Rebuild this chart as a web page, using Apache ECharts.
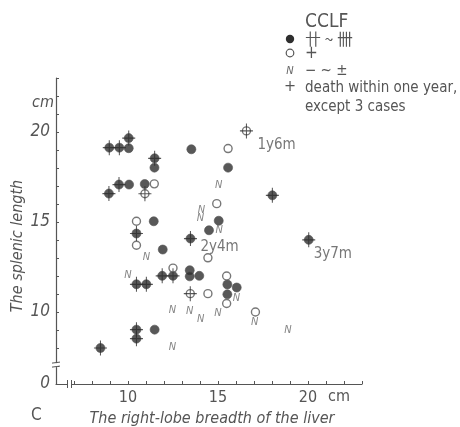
<!DOCTYPE html>
<html>
<head>
<meta charset="utf-8">
<script src="https://cdn.jsdelivr.net/npm/echarts@6/dist/echarts.min.js"></script>
<style>
  html, body { margin: 0; padding: 0; background: #fff; }
  #chart { width: 460px; height: 427px; }
</style>
</head>
<body>
<div id="chart"></div>
<script>
// x: right-lobe breadth of the liver (cm), y: splenic length (cm)
// CCLF ++ ~ +++  (filled circle), died within one year (cross)
const filledDeath = [
  [8.47, 8.0], [8.96, 19.13], [9.52, 19.13], [10.04, 19.66], [11.48, 18.54],
  [9.5, 17.08], [8.94, 16.58], [10.47, 14.36], [10.47, 11.54], [11.02, 11.54],
  [11.9, 12.01], [12.5, 12.01], [13.47, 14.08], [10.47, 9.02], [10.47, 8.52],
  [18.02, 16.48], [20.04, 14.01]
];
// CCLF ++ ~ +++  (filled circle), alive
const filledAlive = [
  [10.04, 19.1], [13.52, 19.04], [11.47, 18.02], [10.06, 17.08], [10.93, 17.11],
  [11.43, 15.04], [15.04, 15.07], [14.5, 14.54], [11.93, 13.47], [13.43, 12.32],
  [13.43, 11.98], [13.96, 12.01], [15.56, 18.02], [15.52, 11.53], [16.04, 11.36],
  [15.52, 10.98], [11.48, 9.02]
];
// CCLF +  (open circle)
const openDeath = [[10.94, 16.57], [16.58, 20.06], [13.46, 11.02]];
const openAlive = [
  [11.46, 17.12], [10.47, 15.04], [10.47, 13.71], [14.93, 16.02], [15.56, 19.08],
  [14.44, 13.01], [12.5, 12.44], [14.44, 11.02], [15.48, 12.0], [15.48, 10.47],
  [17.08, 10.0]
];
// CCLF - ~ ±  (letter N)
const nPoints = [
  [15.04, 17.04], [14.08, 15.65], [14.02, 15.19], [15.06, 14.54], [11.02, 13.06],
  [10.0, 12.04], [12.47, 10.09], [13.43, 10.04], [14.04, 9.58], [15.0, 9.94],
  [16.02, 10.79], [17.04, 9.44], [18.89, 8.98], [12.47, 8.06]
];
// survival notes for the 3 cases that lived longer
const notes = [[16.58, 20.06, '1y6m'], [13.47, 14.08, '2y4m'], [20.04, 14.01, '3y7m']];
const noteOffsets = [[6, 14], [5, 9], [0, 14]];

const xLabels = [10, 15, 20];
const yLabels = [10, 15, 20];

const font = "'Liberation Sans Narrow', 'DejaVu Sans Condensed', 'Liberation Sans', sans-serif";
const ink = '#2e2e2e';
const grey = '#555';
const clear = 'rgba(0,0,0,0)';
const crossPath = 'path://M0,46H100V54H0Z M46,0H54V100H46Z';

const myChart = echarts.init(document.getElementById('chart'));

const option = {
  backgroundColor: '#fff',
  animation: false,
  grid: { left: 56, top: 78, width: 306, height: 306, containLabel: false, outerBoundsMode: 'none' },
  xAxis: {
    type: 'value', min: 6, max: 23, interval: 1,
    name: 'The right-lobe breadth of the liver',
    nameLocation: 'middle', nameGap: 26,
    nameTextStyle: { fontFamily: font, fontStyle: 'italic', fontSize: 16, color: grey, padding: [0, 0, 0, 6] },
    axisLine: { lineStyle: { color: grey, width: 1.2 } },
    axisTick: { inside: true, length: 3, lineStyle: { color: grey } },
    splitLine: { show: false },
    axisLabel: {
      interval: 0, margin: 6, fontFamily: font, fontSize: 16, color: grey,
      formatter: v => xLabels.includes(v) ? String(v) : ''
    }
  },
  yAxis: {
    type: 'value', min: 6, max: 23, interval: 1,
    axisLine: { lineStyle: { color: grey, width: 1.2 } },
    axisTick: { inside: true, length: 3, lineStyle: { color: grey } },
    splitLine: { show: false },
    axisLabel: {
      interval: 0, margin: 6, fontFamily: font, fontStyle: 'italic', fontSize: 17, color: grey,
      formatter: v => v === 6 ? '0' : (yLabels.includes(v) ? String(v) : '')
    }
  },
  series: [
    {
      name: 'filled', type: 'scatter', symbol: 'circle', symbolSize: 9,
      data: filledDeath.concat(filledAlive),
      itemStyle: { color: ink, borderColor: '#555', borderWidth: 0.8 }, z: 3
    },
    {
      name: 'open', type: 'scatter', symbol: 'circle', symbolSize: 8,
      data: openDeath.concat(openAlive),
      itemStyle: { color: '#fff', borderColor: grey, borderWidth: 1.4 }, z: 3
    },
    {
      name: 'N', type: 'scatter', symbol: 'circle', symbolSize: 2,
      data: nPoints,
      itemStyle: { color: clear },
      label: {
        show: true, position: 'inside', formatter: 'N',
        fontFamily: font, fontStyle: 'italic', fontSize: 11, color: '#666'
      }, z: 3
    },
    {
      name: 'death', type: 'scatter', symbol: crossPath, symbolSize: [13, 15],
      data: filledDeath.concat(openDeath),
      itemStyle: { color: ink }, z: 4
    },
    {
      name: 'notes', type: 'scatter', symbol: 'circle', symbolSize: 2,
      data: notes.map((n, i) => ({
        value: n,
        label: { offset: noteOffsets[i] }
      })),
      itemStyle: { color: clear },
      label: {
        show: true, position: 'right', distance: 4,
        formatter: p => p.value[2],
        fontFamily: font, fontSize: 15, color: grey
      }, z: 5
    }
  ],
  graphic: [
    { type: 'text', left: 32, top: 95, style: { text: 'cm', font: 'italic 16px ' + font, fill: grey } },
    { type: 'text', left: 328, top: 389, style: { text: 'cm', font: '16px ' + font, fill: grey } },
    { type: 'text', left: 31, top: 407, style: { text: 'C', font: '17px ' + font, fill: grey } },
    {
      type: 'text', x: 18, y: 246, rotation: Math.PI / 2,
      style: { text: 'The splenic length', font: 'italic 16px ' + font, fill: grey, align: 'center', verticalAlign: 'middle' }
    },
    // legend
    { type: 'text', left: 305, top: 13, style: { text: 'CCLF', font: '19px ' + font, fill: grey } },
    { type: 'circle', shape: { cx: 290, cy: 39, r: 4.2 }, style: { fill: ink } },
    { type: 'text', x: 305, y: 39, style: { text: '卄 ~ 卌', font: '16px "Noto Sans CJK JP"', fill: grey, verticalAlign: 'middle' } },
    { type: 'circle', shape: { cx: 290, cy: 53, r: 3.8 }, style: { fill: '#fff', stroke: grey, lineWidth: 1.2 } },
    { type: 'text', x: 305, y: 54, style: { text: '+', font: '17px ' + font, fill: grey, verticalAlign: 'middle' } },
    { type: 'text', x: 290, y: 71, style: { text: 'N', font: 'italic 11px ' + font, fill: '#666', align: 'center', verticalAlign: 'middle' } },
    { type: 'text', x: 305, y: 71, style: { text: '− ~ ±', font: '15px ' + font, fill: grey, verticalAlign: 'middle' } },
    { type: 'text', x: 290, y: 87, style: { text: '+', font: '16px ' + font, fill: grey, align: 'center', verticalAlign: 'middle' } },
    { type: 'text', x: 305, y: 88, style: { text: 'death within one year,', font: '15px ' + font, fill: grey, verticalAlign: 'middle' } },
    { type: 'text', x: 305, y: 107, style: { text: 'except 3 cases', font: '15px ' + font, fill: grey, verticalAlign: 'middle' } }
  ]
};

option && myChart.setOption(option);

// axis break marks
const yb = myChart.convertToPixel({ gridIndex: 0 }, [6, 7.05]);
const xb = myChart.convertToPixel({ gridIndex: 0 }, [6.75, 6]);
myChart.setOption({
  graphic: option.graphic.concat([
    { type: 'rect', shape: { x: yb[0] - 2, y: yb[1] - 2, width: 4, height: 4 }, style: { fill: '#fff' }, z: 10 },
    { type: 'line', shape: { x1: yb[0] - 4, y1: yb[1] - 2, x2: yb[0] + 4, y2: yb[1] - 3 }, style: { stroke: grey, lineWidth: 1 }, z: 11 },
    { type: 'line', shape: { x1: yb[0] - 4, y1: yb[1] + 2, x2: yb[0] + 4, y2: yb[1] + 1 }, style: { stroke: grey, lineWidth: 1 }, z: 11 },
    { type: 'rect', shape: { x: xb[0] - 2, y: xb[1] - 2, width: 4, height: 4 }, style: { fill: '#fff' }, z: 10 },
    { type: 'line', shape: { x1: xb[0] - 2, y1: xb[1] - 4, x2: xb[0] - 2, y2: xb[1] + 4 }, style: { stroke: grey, lineWidth: 1 }, z: 11 },
    { type: 'line', shape: { x1: xb[0] + 2, y1: xb[1] - 4, x2: xb[0] + 2, y2: xb[1] + 4 }, style: { stroke: grey, lineWidth: 1 }, z: 11 }
  ])
});
</script>
</body>
</html>
